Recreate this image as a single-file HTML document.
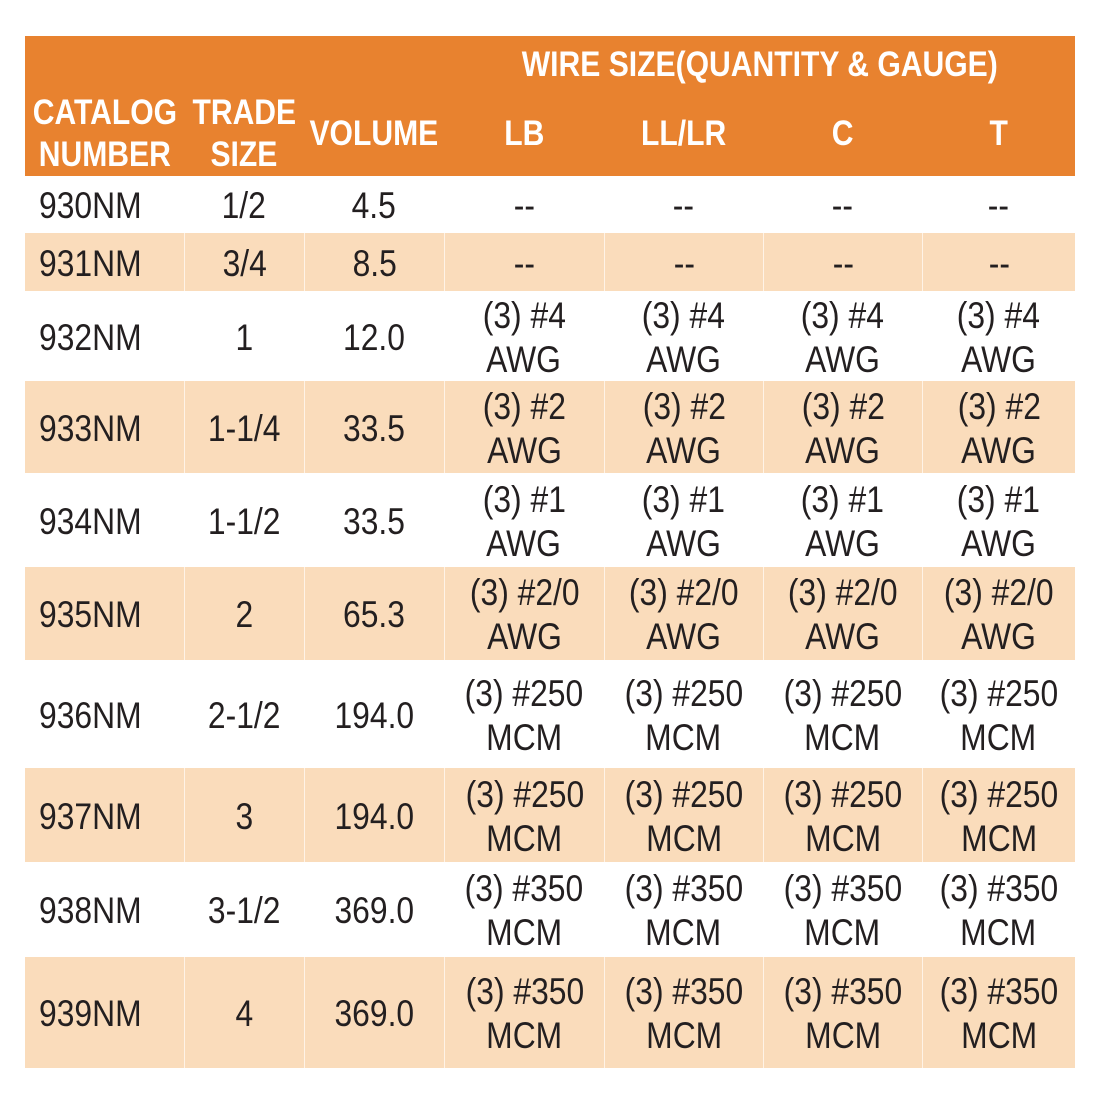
<!DOCTYPE html>
<html><head><meta charset="utf-8">
<style>
html,body{margin:0;padding:0;background:#fff;width:1100px;height:1100px;overflow:hidden}
#t{position:absolute;left:0;top:0;width:1100px;height:1100px}
.c{position:absolute;display:flex;flex-direction:column;align-items:center;justify-content:center;box-sizing:border-box;padding-top:3px}
.l{white-space:nowrap;transform:scaleX(0.86);font-family:"Liberation Sans",sans-serif;font-size:37px;line-height:44px;color:#231f20}
.h .l{color:#fff;font-weight:bold;font-size:35px;line-height:42px;transform:scaleX(0.86)}
</style></head><body>
<div id="t"></div>
<script>
const colEdges=[25,184,304,444,604,763,922,1075];
const rowEdges=[176,233,291,381,473,567,660,768,862,957,1068];
const catalog=["930NM","931NM","932NM","933NM","934NM","935NM","936NM","937NM","938NM","939NM"];
const tradeSize=["1/2","3/4","1","1-1/4","1-1/2","2","2-1/2","3","3-1/2","4"];
const volume=["4.5","8.5","12.0","33.5","33.5","65.3","194.0","194.0","369.0","369.0"];
const wire=["--","--","(3) #4|AWG","(3) #2|AWG","(3) #1|AWG","(3) #2/0|AWG","(3) #250|MCM","(3) #250|MCM","(3) #350|MCM","(3) #350|MCM"];
const t=document.getElementById('t');
function cell(x,y,w,h,text,bg,cls,name){
  const d=document.createElement('div');
  d.className='c'+(cls?' '+cls:'');
  d.style.cssText=`left:${x}px;top:${y}px;width:${w}px;height:${h}px;`+(bg?`background:${bg};`:'');
  
  
  text.split('|').forEach(s=>{const sp=document.createElement('span');sp.className='l';sp.textContent=s;d.appendChild(sp);});
  t.appendChild(d);return d;
}
const hb=document.createElement('div');
hb.style.cssText='position:absolute;left:25px;top:36px;width:1050px;height:140px;background:#e8822f';


t.appendChild(hb);
cell(444,38,631,50,"WIRE SIZE(QUANTITY & GAUGE)",null,'h','wire-size-header');
cell(25,90,159,84,"CATALOG|NUMBER",null,'h','catalog-number-header');
cell(184,90,120,84,"TRADE|SIZE",null,'h','trade-size-header');
cell(304,90,140,84,"VOLUME",null,'h','volume-header');
["LB","LL/LR","C","T"].forEach((s,i)=>cell(colEdges[3+i],90,colEdges[4+i]-colEdges[3+i],84,s,null,'h','header-'+s.toLowerCase().replace('/','-')));
for(let r=0;r<catalog.length;r++){
  const y=rowEdges[r],h=rowEdges[r+1]-y;
  const bg=r%2?'#fadcbb':null;
  const vals=[catalog[r],tradeSize[r],volume[r],wire[r],wire[r],wire[r],wire[r]];
  for(let c=0;c<7;c++){
    const x=colEdges[c],w=colEdges[c+1]-x;
    const d=cell(x,y,w,h,vals[c],bg,'',`cell-${catalog[r].toLowerCase()}-${c}`);
    if(bg&&c>0)d.style.borderLeft='1px solid #fff3e6';
    if(c===0){d.style.alignItems='flex-start';d.querySelectorAll('.l').forEach(l=>{l.style.transformOrigin='left center';l.style.marginLeft='14px';});}
  }
}
</script>
</body></html>
